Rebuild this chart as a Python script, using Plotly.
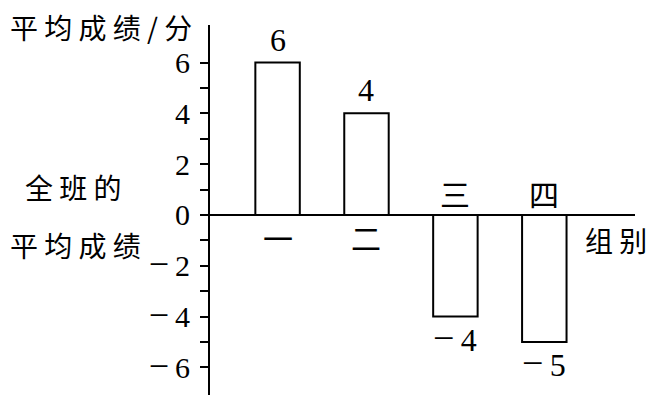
import plotly.graph_objects as go

# data
groups = ['一', '二', '三', '四']
scores = [6, 4, -4, -5]
tick_vals = list(range(-6, 7))

W, H = 655, 400
OFF = 8  # page body margin
L, R, T, B = 210, 20, 25, 5
CJK = 'Noto Sans CJK SC'
SERIF = 'Liberation Serif, Times New Roman, serif'


def num(v, dash=36):
    # long minus like the printed figure
    if v < 0:
        return f'<span style="font-size:{dash}px">−</span>\u2009{-v}'
    return str(v)


def px(x):
    return (x - L) / (W - L - R)


def py(y):
    return 1 - (y - T) / (H - T - B)


tick_text = [num(v) if v % 2 == 0 else '' for v in tick_vals]
pos = list(range(1, len(groups) + 1))

fig = go.Figure(go.Bar(
    x=pos,
    y=scores,
    width=0.5,
    marker=dict(color='white', line=dict(color='black', width=2)),
    hoverinfo='skip',
))

annotations = []
for p, g, s in zip(pos, groups, scores):
    # group name on the opposite side of the zero line
    annotations.append(dict(
        x=p, y=0, xref='x', yref='y', text=g, showarrow=False,
        yanchor='top' if s > 0 else 'bottom',
        yshift=2 if s > 0 else -2,
        font=dict(family=CJK, size=30, color='black'),
    ))
    # value label at the bar end
    annotations.append(dict(
        x=p, y=s, xref='x', yref='y', text=num(s, 38), showarrow=False,
        yanchor='middle',
        yshift=23 if s > 0 else -21,
        font=dict(family=SERIF, size=32, color='black'),
    ))

labels = [
    ('平 均 成 绩 / 分', 9, 27),
    ('全 班 的', 24, 187),
    ('平 均 成 绩', 9, 245),
    ('组 别', 584, 240),
]
for txt, x, y in labels:
    annotations.append(dict(
        x=px(x), y=py(y), xref='paper', yref='paper', text=txt,
        showarrow=False, xanchor='left', yanchor='middle', borderpad=0,
        font=dict(family=CJK, size=28, color='black'),
    ))

fig.update_layout(
    width=W - OFF, height=H - OFF,
    margin=dict(l=L - OFF, r=R, t=T - OFF, b=B),
    paper_bgcolor='white',
    plot_bgcolor='white',
    showlegend=False,
    xaxis=dict(range=[0.24, 5.02], visible=False),
    yaxis=dict(
        range=[-7.09, 7.48],
        tickvals=tick_vals,
        ticktext=tick_text,
        ticks='outside', ticklen=8, tickwidth=2, tickcolor='black',
        showline=True, linecolor='black', linewidth=2,
        showgrid=False,
        zeroline=True, zerolinecolor='black', zerolinewidth=2,
        tickfont=dict(family=SERIF, size=30, color='black'),
        ticklabelstandoff=4,
    ),
    annotations=annotations,
)

fig.write_html('out.html')
